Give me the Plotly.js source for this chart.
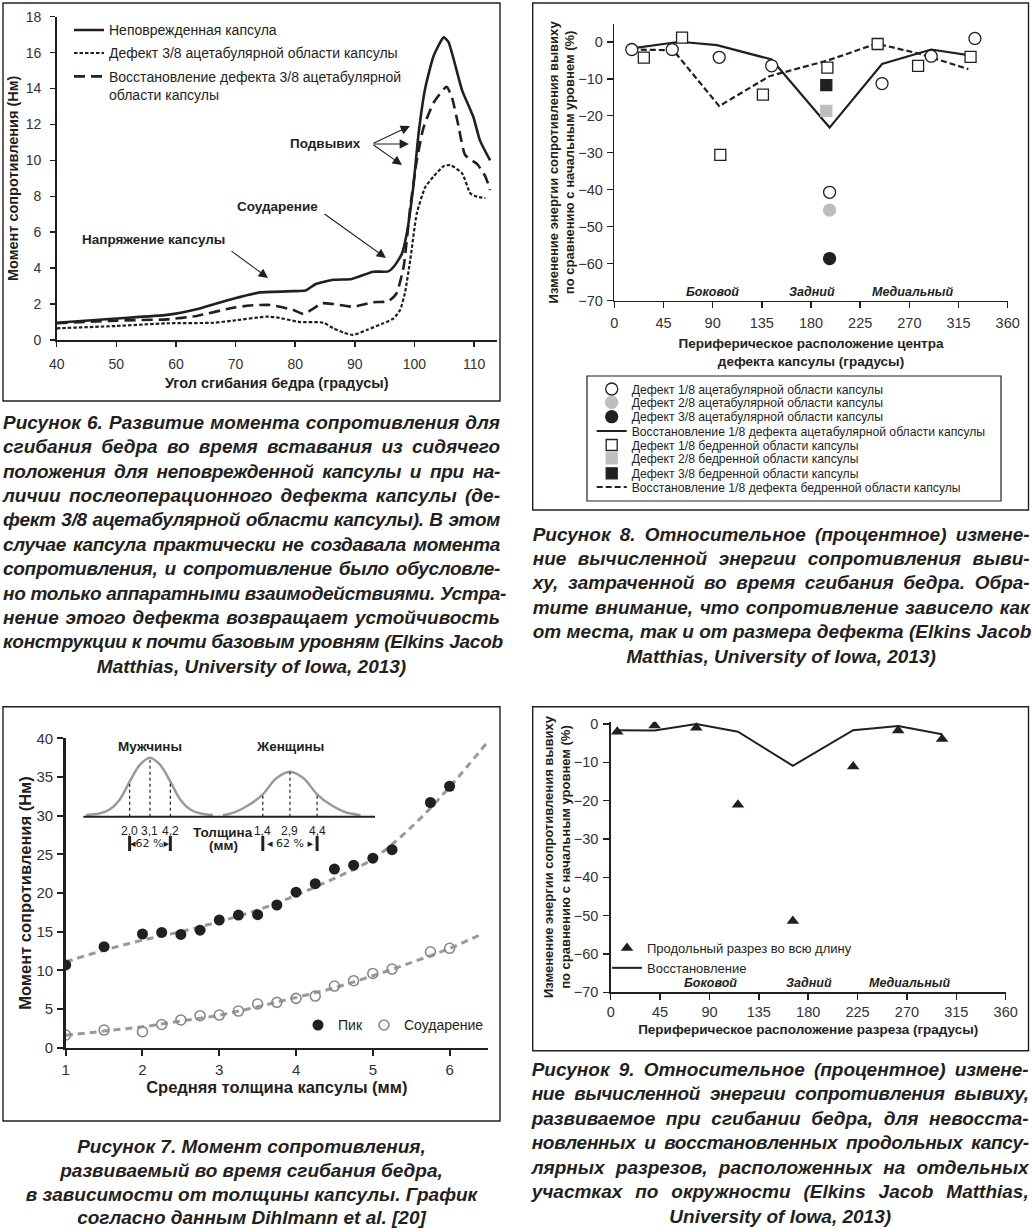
<!DOCTYPE html>
<html><head><meta charset="utf-8">
<script src="https://cdn.plot.ly/plotly-3.0.1.min.js"></script>
<style>
html,body{margin:0;padding:0;background:#fff;}
#wrap{position:relative;width:1032px;height:1229px;overflow:hidden;}
#fig{position:absolute;left:0;top:0;width:1032px;height:1229px;}
.cap{position:absolute;font-family:"Liberation Sans",Arial,sans-serif;font-weight:bold;font-style:italic;color:#231f20;font-size:19px;line-height:24.4px;z-index:5;}
.cap div{text-align:justify;text-align-last:justify;white-space:nowrap;}
.cap div.t{letter-spacing:-0.3px;}
.cap div.c{text-align:center;text-align-last:center;}
</style></head>
<body><div id="wrap"><div id="fig"></div>
<div class="cap" style="left:3px;top:410.8px;width:497px">
<div>Рисунок 6. Развитие момента сопротивления для</div>
<div>сгибания бедра во время вставания из сидячего</div>
<div class="t">положения для неповрежденной капсулы и при на-</div>
<div>личии послеоперационного дефекта капсулы (де-</div>
<div class="t">фект 3/8 ацетабулярной области капсулы). В этом</div>
<div class="t">случае капсула практически не создавала момента</div>
<div class="t">сопротивления, и сопротивление было обусловле-</div>
<div class="t">но только аппаратными взаимодействиями. Устра-</div>
<div>нение этого дефекта возвращает устойчивость</div>
<div class="t">конструкции к почти базовым уровням (Elkins Jacob</div>
<div class="c">Matthias, University of Iowa, 2013)</div>
</div>
<div class="cap" style="left:532.7px;top:522.8px;width:497px;line-height:24.35px">
<div>Рисунок 8. Относительное (процентное) измене-</div>
<div>ние вычисленной энергии сопротивления выви-</div>
<div>ху, затраченной во время сгибания бедра. Обра-</div>
<div>тите внимание, что сопротивление зависело как</div>
<div>от места, так и от размера дефекта (Elkins Jacob</div>
<div class="c">Matthias, University of Iowa, 2013)</div>
</div>
<div class="cap" style="left:3px;top:1134.7px;width:497px;line-height:23.9px">
<div class="c">Рисунок 7. Момент сопротивления,</div>
<div class="c">развиваемый во время сгибания бедра,</div>
<div class="c">в зависимости от толщины капсулы. График</div>
<div class="c">согласно данным Dihlmann et al. [20]</div>
</div>
<div class="cap" style="left:531.7px;top:1057.8px;width:497px;line-height:24.45px">
<div>Рисунок 9. Относительное (процентное) измене-</div>
<div class="t">ние вычисленной энергии сопротивления вывиху,</div>
<div>развиваемое при сгибании бедра, для невосста-</div>
<div class="t">новленных и восстановленных продольных капсу-</div>
<div>лярных разрезов, расположенных на отдельных</div>
<div>участках по окружности (Elkins Jacob Matthias,</div>
<div class="c">University of Iowa, 2013)</div>
</div>
</div>
<script>
// ---------- Figure 6 data ----------
const f6IntactX = [40,50,58.5,64,69.6,74.1,79.7,81.7,83.4,86.4,89.5,93.1,95.6,96.7,97.9,98.7,99.8,100.7,101.8,103.2,104.9,105.7,108,109.9,111,112.7];
const f6IntactY = [0.96,1.2,1.4,1.76,2.3,2.65,2.72,2.75,3.1,3.35,3.4,3.8,3.82,4.15,4.8,5.9,8.5,11.5,14.0,15.8,16.85,16.6,13.9,12.4,11.1,10.0];
const f6DefectX = [40,50,58.5,66.3,69.6,75.2,76.9,80.8,84.7,86.4,88.1,89.7,92,94.8,96.5,97.6,98.4,99.3,100.4,101.8,103.2,104.9,106,108,109.4,110.5,111.9];
const f6DefectY = [0.65,0.78,0.93,0.96,1.08,1.3,1.26,1.0,0.97,0.65,0.41,0.28,0.56,0.93,1.2,1.67,2.6,4.45,7.05,8.5,9.1,9.68,9.74,9.28,8.16,7.98,7.9];
const f6RepairX = [40,50,58.5,63.5,69.6,72.4,75.8,79.7,81.4,83.1,84.5,86.4,89.7,93.1,95.6,97,98.2,99.3,100.4,101.5,103.2,105.4,106.3,107.4,108.5,110.5,111.9,112.7];
const f6RepairY = [0.93,1.08,1.15,1.34,1.8,1.92,1.95,1.67,1.45,1.76,2.05,2.0,1.85,2.1,2.15,2.6,4.1,7.4,10.0,11.8,13.2,14.1,13.5,11.9,10.3,9.8,9.1,8.35];
const f6Names = ['Неповрежденная капсула','Дефект 3/8 ацетабулярной области капсулы','Восстановление дефекта 3/8 ацетабулярной<br>области капсулы'];
const f6Notes = ['Подвывих','Соударение','Напряжение капсулы'];

// ---------- Figure 8 data ----------
const f8AcetLineX = [16,60,94,144,197,245,290,324];
const f8AcetLineY = [-1.8,0,-0.9,-4.8,-23.2,-6.0,-2.1,-3.6];
const f8FemLineX = [16,54,96,142,196,240,280,324];
const f8FemLineY = [-2.1,-2.3,-17.4,-9.3,-5.0,-0.5,-3.3,-7.4];
const f8Acet1X = [16,53,96,144,197,245,290,330];
const f8Acet1Y = [-2.1,-2.1,-4.2,-6.5,-40.7,-11.3,-3.9,0.9];
const f8Acet2X = [197], f8Acet2Y = [-45.5];
const f8Acet3X = [197], f8Acet3Y = [-58.6];
const f8Fem1X = [27,62,97,136,195,241,278,326];
const f8Fem1Y = [-4.3,1.1,-30.6,-14.3,-7.0,-0.6,-6.5,-4.1];
const f8Fem2X = [194], f8Fem2Y = [-18.7];
const f8Fem3X = [194], f8Fem3Y = [-11.7];
const f8Names = ['Дефект 1/8 ацетабулярной области капсулы','Дефект 2/8 ацетабулярной области капсулы','Дефект 3/8 ацетабулярной области капсулы','Восстановление 1/8 дефекта ацетабулярной области капсулы','Дефект 1/8 бедренной области капсулы','Дефект 2/8 бедренной области капсулы','Дефект 3/8 бедренной области капсулы','Восстановление 1/8 дефекта бедренной области капсулы'];
const regionNames = ['Боковой','Задний','Медиальный'];
const f8RegionX = [90,181,273];
const f9RegionX = [90.5,181,272.6];
const regionY = -67.6;

// ---------- Figure 7 data ----------
const f7Thick = [1,1.5,2,2.25,2.5,2.75,3,3.25,3.5,3.75,4,4.25,4.5,4.75,5,5.25,5.75,6];
const f7Peak = [10.7,13.06,14.7,14.9,14.65,15.2,16.5,17.15,17.2,18.45,20.1,21.2,23.1,23.6,24.5,25.6,31.7,33.8];
const f7Impact = [1.64,2.28,2.07,3.0,3.58,4.14,4.22,4.74,5.65,5.86,6.38,6.68,7.97,8.66,9.6,10.17,12.4,12.85];
const f7PeakTrendX = [1,1.5,2,2.5,3,3.5,4,4.5,5,5.5,6,6.5];
const f7PeakTrendY = [11.1,12.6,13.9,15.0,16.3,17.8,19.7,21.9,24.4,28.5,33.7,39.6];
const f7ImpTrendX = [1,1.5,2,2.5,3,3.5,4,4.5,5,5.5,6,6.4];
const f7ImpTrendY = [1.6,2.15,2.7,3.45,4.2,5.3,6.5,7.75,9.3,11.0,12.85,14.6];
const f7Names = ['Пик','Соударение'];
// inset: thickness distributions
const bellMenX = [-0.35,0.35,0.9,1.45,2.0,2.55,3.1,3.65,4.2,4.75,5.3,5.85,6.5];
const bellMenY = [0.024,0.045,0.1,0.24,0.5,0.74,0.843,0.74,0.5,0.24,0.1,0.045,0.024];
const bellWomenX = [-0.8,-0.1,0.65,1.4,2.15,2.9,3.65,4.4,5.15,5.9,6.8];
const bellWomenY = [0.02,0.07,0.17,0.32,0.55,0.643,0.55,0.32,0.17,0.07,0.02];
const menMarks = [2.0,3.1,4.2], menMarkH = [0.5,0.843,0.5];
const womenMarks = [1.4,2.9,4.4], womenMarkH = [0.32,0.643,0.32];
const insetTitles = ['Мужчины','Женщины'];

// ---------- Figure 9 data ----------
const f9LineX = [5,40,78,116,166,221,262,302];
const f9LineY = [-1.6,-1.7,0,-2.0,-10.9,-1.6,-0.5,-2.7];
const f9CutX = [6,40,78,116,166,221,262,302];
const f9CutY = [-2.0,-0.4,-1.0,-21.1,-51.4,-11.1,-1.7,-3.9];
const f9Names = ['Продольный разрез во всю длину','Восстановление'];

// ---------- helpers ----------
const FONT = '"Liberation Sans", Arial, sans-serif';
const INK = '#231f20';
const GRAY = '#bcbec0';
const W = 1032, H = 1229;
const PX = v => v / W;
const PY = v => 1 - v / H;
const fmt = v => v.toFixed(1).replace('.', ',');

function ax(extra) {
  return Object.assign({showgrid:false, zeroline:false, showline:true, linecolor:INK, linewidth:1.5,
    ticks:'outside', tickcolor:INK, tickwidth:1.5, ticklen:5,
    tickfont:{family:FONT, size:14, color:'#333'}, automargin:false, fixedrange:true}, extra);
}
function ttl(text, size, standoff) {
  return {text:text, standoff:standoff, font:{family:FONT, size:size, weight:'bold', color:INK}};
}
function lg(x, top, size, extra) {
  return Object.assign({x:PX(x), y:PY(top), xref:'paper', yref:'paper', xanchor:'left', yanchor:'top',
    bgcolor:'rgba(0,0,0,0)', borderwidth:0, font:{family:FONT, size:size, color:INK}}, extra || {});
}
function hidden(extra) {
  return Object.assign({visible:false, fixedrange:true, automargin:false}, extra);
}

const traces = [];
// Figure 6
traces.push({type:'scatter', mode:'lines', x:f6IntactX, y:f6IntactY, name:f6Names[0], xaxis:'x', yaxis:'y', legend:'legend',
  line:{color:INK, width:2.6, shape:'spline', smoothing:0.5}});
traces.push({type:'scatter', mode:'lines', x:f6DefectX, y:f6DefectY, name:f6Names[1], xaxis:'x', yaxis:'y', legend:'legend2',
  line:{color:INK, width:2.2, dash:'3.5px,2px', shape:'spline', smoothing:0.5}});
traces.push({type:'scatter', mode:'lines', x:f6RepairX, y:f6RepairY, name:f6Names[2], xaxis:'x', yaxis:'y', legend:'legend3',
  line:{color:INK, width:2.6, dash:'11px,6px', shape:'spline', smoothing:0.5}});

// Figure 8
traces.push({type:'scatter', mode:'lines', x:f8AcetLineX, y:f8AcetLineY, name:f8Names[3], xaxis:'x2', yaxis:'y2', legend:'legend7',
  line:{color:INK, width:2.2}});
traces.push({type:'scatter', mode:'lines', x:f8FemLineX, y:f8FemLineY, name:f8Names[7], xaxis:'x2', yaxis:'y2', legend:'legend11',
  line:{color:INK, width:2.2, dash:'6px,3px'}});
const circ = (c, fill) => ({symbol:'circle', size:12, color:fill, line:{color:c, width:1.3}});
const sq = (c, fill) => ({symbol:'square', size:11, color:fill, line:{color:c, width:1.3}});
traces.push({type:'scatter', mode:'markers', x:f8Acet1X, y:f8Acet1Y, name:f8Names[0], xaxis:'x2', yaxis:'y2', legend:'legend4', marker:circ(INK,'#fff')});
traces.push({type:'scatter', mode:'markers', x:f8Acet2X, y:f8Acet2Y, name:f8Names[1], xaxis:'x2', yaxis:'y2', legend:'legend5', marker:circ(GRAY,GRAY)});
traces.push({type:'scatter', mode:'markers', x:f8Acet3X, y:f8Acet3Y, name:f8Names[2], xaxis:'x2', yaxis:'y2', legend:'legend6', marker:circ(INK,INK)});
traces.push({type:'scatter', mode:'markers', x:f8Fem1X, y:f8Fem1Y, name:f8Names[4], xaxis:'x2', yaxis:'y2', legend:'legend8', marker:sq(INK,'#fff')});
traces.push({type:'scatter', mode:'markers', x:f8Fem2X, y:f8Fem2Y, name:f8Names[5], xaxis:'x2', yaxis:'y2', legend:'legend9', marker:sq(GRAY,GRAY)});
traces.push({type:'scatter', mode:'markers', x:f8Fem3X, y:f8Fem3Y, name:f8Names[6], xaxis:'x2', yaxis:'y2', legend:'legend10', marker:sq(INK,INK)});

// Figure 7
traces.push({type:'scatter', mode:'lines', x:f7PeakTrendX, y:f7PeakTrendY, showlegend:false, xaxis:'x3', yaxis:'y3',
  line:{color:'#9a9a9a', width:3, dash:'7px,5px', shape:'spline'}, hoverinfo:'skip'});
traces.push({type:'scatter', mode:'lines', x:f7ImpTrendX, y:f7ImpTrendY, showlegend:false, xaxis:'x3', yaxis:'y3',
  line:{color:'#9a9a9a', width:3, dash:'7px,5px', shape:'spline'}, hoverinfo:'skip'});
traces.push({type:'scatter', mode:'markers', x:f7Thick, y:f7Peak, name:f7Names[0], xaxis:'x3', yaxis:'y3', legend:'legend12',
  marker:{symbol:'circle', size:11, color:INK}});
traces.push({type:'scatter', mode:'markers', x:f7Thick, y:f7Impact, name:f7Names[1], xaxis:'x3', yaxis:'y3', legend:'legend13',
  marker:{symbol:'circle-open', size:10, color:'#888', line:{width:1.6}}});
traces.push({type:'scatter', mode:'lines', x:bellMenX, y:bellMenY, showlegend:false, xaxis:'x5', yaxis:'y5',
  line:{color:'#9a9a9a', width:2.5, shape:'spline'}, hoverinfo:'skip'});
traces.push({type:'scatter', mode:'lines', x:bellWomenX, y:bellWomenY, showlegend:false, xaxis:'x6', yaxis:'y6',
  line:{color:'#9a9a9a', width:2.5, shape:'spline'}, hoverinfo:'skip'});

// Figure 9
traces.push({type:'scatter', mode:'lines', x:f9LineX, y:f9LineY, name:f9Names[1], xaxis:'x4', yaxis:'y4', legend:'legend14', legendrank:2,
  line:{color:INK, width:2}});
traces.push({type:'scatter', mode:'markers', x:f9CutX, y:f9CutY, name:f9Names[0], xaxis:'x4', yaxis:'y4', legend:'legend14', legendrank:1,
  marker:{symbol:'triangle-up', size:11, color:INK}});

// ---------- annotations ----------
const ann = [];
function txt(o) { ann.push(Object.assign({showarrow:false, xanchor:'center', yanchor:'middle'}, o)); }
const noteFont = {family:FONT, size:13.5, weight:'bold', color:INK};
txt({xref:'paper', yref:'paper', x:PX(325), y:PY(144), text:f6Notes[0], font:noteFont});
txt({xref:'paper', yref:'paper', x:PX(277), y:PY(206), text:f6Notes[1], font:noteFont});
txt({xref:'paper', yref:'paper', x:PX(153), y:PY(240), text:f6Notes[2], font:noteFont});
function arrow(tx, ty, hx, hy) {
  ann.push({xref:'paper', yref:'paper', axref:'paper', ayref:'paper', x:PX(hx), y:PY(hy), ax:PX(tx), ay:PY(ty),
    text:'', showarrow:true, arrowhead:2, arrowsize:1.7, arrowwidth:1.1, arrowcolor:INK, standoff:0, startstandoff:0});
}
arrow(372, 144, 410, 126);
arrow(372, 144, 409, 144);
arrow(372, 144, 402, 165);
arrow(323, 213, 386, 258);
arrow(230, 250, 268, 278);

const regFont = {family:FONT, size:12.5, weight:'bold', style:'italic', color:INK};
regionNames.forEach((t, i) => {
  txt({xref:'x2', yref:'y2', x:f8RegionX[i], y:regionY, text:t, font:regFont});
  txt({xref:'x4', yref:'y4', x:f9RegionX[i], y:regionY, text:t, font:regFont});
});

// inset texts
const insetBold = {family:FONT, size:13.5, weight:'bold', color:INK};
const insetReg = {family:FONT, size:12, color:INK};
txt({xref:'x5', yref:'paper', x:menMarks[1], y:PY(746.7), text:insetTitles[0], font:insetBold});
txt({xref:'x6', yref:'paper', x:womenMarks[1], y:PY(746.7), text:insetTitles[1], font:insetBold});
menMarks.forEach(v => txt({xref:'x5', yref:'paper', x:v, y:PY(831), text:fmt(v), font:insetReg}));
womenMarks.forEach(v => txt({xref:'x6', yref:'paper', x:v, y:PY(831), text:fmt(v), font:insetReg}));
txt({xref:'paper', yref:'paper', x:PX(223.3), y:PY(832.3), text:'Толщина', font:insetBold});
txt({xref:'paper', yref:'paper', x:PX(223.3), y:PY(845.7), text:'(мм)', font:insetBold});
txt({xref:'x5', yref:'paper', x:menMarks[1], y:PY(843.3), text:'◂62 %▸', font:{family:'"DejaVu Sans", ' + FONT, size:11, color:INK}});
txt({xref:'x6', yref:'paper', x:womenMarks[1], y:PY(843.3), text:'◂ 62 % ▸', font:{family:'"DejaVu Sans", ' + FONT, size:11, color:INK}});

// ---------- shapes ----------
const shp = [];
function box(x0, y0, x1, y1, w) {
  shp.push({type:'rect', xref:'paper', yref:'paper', x0:PX(x0), x1:PX(x1), y0:PY(y1), y1:PY(y0), line:{color:INK, width:w}, fillcolor:'rgba(0,0,0,0)'});
}
box(3, 3, 500, 401, 1.4);
box(532.7, 3, 1028.5, 510, 1.4);
box(587, 376, 1001, 501, 1.2);
box(3, 706.7, 500, 1121, 1.4);
box(532.7, 706.7, 1028.5, 1050.7, 1.4);
shp.push({type:'line', xref:'paper', yref:'paper', x0:PX(83.3), x1:PX(375), y0:PY(816.7), y1:PY(816.7), line:{color:INK, width:2}});
menMarks.forEach((v, i) => shp.push({type:'line', xref:'x5', yref:'y5', x0:v, x1:v, y0:0, y1:menMarkH[i], line:{color:INK, width:1.2, dash:'dot'}}));
womenMarks.forEach((v, i) => shp.push({type:'line', xref:'x6', yref:'y6', x0:v, x1:v, y0:0, y1:womenMarkH[i], line:{color:INK, width:1.2, dash:'dot'}}));
[[ 'x5', menMarks[0]], ['x5', menMarks[2]], ['x6', womenMarks[0]], ['x6', womenMarks[2]]].forEach(p =>
  shp.push({type:'line', xref:p[0], yref:'paper', x0:p[1], x1:p[1], y0:PY(851), y1:PY(836), line:{color:INK, width:3}}));

// ---------- layout ----------
const f8Tops = [374.5,387.8,402.2,416.5,430.5,443.8,458.8,472.5];
const layout = {
  width:W, height:H, margin:{l:0, r:0, t:0, b:0}, paper_bgcolor:'#fff', plot_bgcolor:'rgba(0,0,0,0)',
  font:{family:FONT, color:INK}, hovermode:false,
  xaxis: ax({domain:[PX(56.7), PX(496.7)], range:[40,113.8], tick0:40, dtick:10, anchor:'y', ticklabelstandoff:6,
    title:ttl('Угол сгибания бедра (градусы)', 14.5, 6)}),
  yaxis: ax({domain:[PY(340), PY(16.7)], range:[0,18], dtick:2, anchor:'x', ticklabelstandoff:6,
    title:ttl('Момент сопротивления (Нм)', 14.5, 3)}),
  xaxis2: ax({domain:[PX(614.3), PX(1007.7)], range:[0,360], dtick:45, anchor:'y2', ticklen:6, ticklabelstandoff:2,
    tickfont:{family:FONT, size:14.5, color:'#333'},
    title:ttl('Периферическое расположение центра<br>дефекта капсулы (градусы)', 13.5, 9)}),
  yaxis2: ax({domain:[PY(300.7), PY(24)], range:[-70,4.8], tick0:0, dtick:10, anchor:'x2', ticklen:6, ticklabelstandoff:1,
    tickfont:{family:FONT, size:14.5, color:'#333'},
    title:ttl('Изменение энергии сопротивления вывиху<br>по сравнению с начальным уровнем (%)', 13, 0)}),
  xaxis3: ax({domain:[PX(65.7), PX(488)], range:[1,6.5], dtick:1, anchor:'y3', linewidth:2.5, tickwidth:2, ticklen:6, ticklabelstandoff:1,
    tickfont:{family:FONT, size:15, color:'#333'}, title:ttl('Средняя толщина капсулы (мм)', 16.5, 1)}),
  yaxis3: ax({domain:[PY(1047.7), PY(738.3)], range:[0,40], dtick:5, anchor:'x3', linewidth:2.5, tickwidth:2, ticklen:6, ticklabelstandoff:1,
    tickfont:{family:FONT, size:15, color:'#333'}, title:ttl('Момент сопротивления (Нм)', 16.5, 1)}),
  xaxis4: ax({domain:[PX(610.7), PX(1005.7)], range:[0,360], dtick:45, anchor:'y4', ticklen:6, ticklabelstandoff:0,
    tickfont:{family:FONT, size:14.5, color:'#333'},
    title:ttl('Периферическое расположение разреза (градусы)', 13.5, 5)}),
  yaxis4: ax({domain:[PY(992.3), PY(721.7)], range:[-70,0.6], tick0:0, dtick:10, anchor:'x4', ticklen:6, ticklabelstandoff:2,
    tickfont:{family:FONT, size:14.5, color:'#333'},
    title:ttl('Изменение энергии сопротивления вывиху<br>по сравнению с начальным уровнем (%)', 13, 0)}),
  xaxis5: hidden({domain:[PX(83.3), PX(219)], range:[-0.505,6.83], anchor:'y5'}),
  yaxis5: hidden({domain:[PY(816.7), PY(746.7)], range:[0,1], anchor:'x5'}),
  xaxis6: hidden({domain:[PX(219), PX(375)], range:[-1.02,7.6], anchor:'y6'}),
  yaxis6: hidden({domain:[PY(816.7), PY(746.7)], range:[0,1], anchor:'x6'}),
  legend: lg(69, 14.4, 14),
  legend2: lg(69, 37.4, 14),
  legend3: lg(69, 60.8, 14, {valign:'top'}),
  legend12: lg(298, 1009.4, 14),
  legend13: lg(364, 1009.4, 14),
  legend14: lg(607, 933, 13),
  annotations: ann,
  shapes: shp
};
f8Tops.forEach((t, i) => { layout['legend' + (i + 4)] = lg(591.7, t, 12.2); });

Plotly.newPlot('fig', traces, layout, {staticPlot:true, displayModeBar:false});
</script>
</body></html>
